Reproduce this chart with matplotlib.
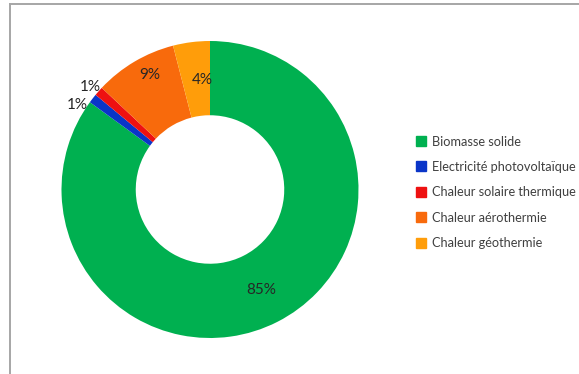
import numpy as np
import matplotlib
matplotlib.use("Agg")
import matplotlib.pyplot as plt
from matplotlib.lines import Line2D

plt.rcParams['font.family'] = ['Lato', 'DejaVu Sans']

categories = ["Biomasse solide", "Electricité photovoltaïque",
              "Chaleur solaire thermique", "Chaleur aérothermie",
              "Chaleur géothermie"]
shares = [85, 1, 1, 9, 4]
pct_labels = ["85%", "1%", "1%", "9%", "4%"]
colors = ["#00b050", "#0a35c8", "#ee1111", "#f86a0c", "#ff9d0a"]

# label placement: radial distance (fraction of outer radius) and angular nudge (deg)
label_radius = [0.76, 1.06, 1.06, 0.87, 0.74]
label_nudge = [0, 5.2, 0.7, -3.0, -3.0]

W, H = 579, 374
fig = plt.figure(figsize=(W / 100, H / 100), dpi=100)

# frame lines (top and left)
fig.add_artist(Line2D([9.5 / W, 1.0], [1 - 3.5 / H, 1 - 3.5 / H],
                      color="#a6a6a6", lw=1.4, transform=fig.transFigure))
fig.add_artist(Line2D([9.5 / W, 9.5 / W], [0, 1 - 3.5 / H],
                      color="#a6a6a6", lw=1.4, transform=fig.transFigure))

cx, cy, R = 210, 189.5, 148.5
ax = fig.add_axes([(cx - R) / W, 1 - (cy + R) / H, 2 * R / W, 2 * R / H])

wedges, _ = ax.pie(shares, colors=colors, startangle=90, counterclock=False,
                   radius=1.0, wedgeprops=dict(width=0.5, linewidth=0))
ax.set_xlim(-1, 1)
ax.set_ylim(-1, 1)
ax.set_aspect("equal")
ax.axis("off")

for w, lab, r, nudge in zip(wedges, pct_labels, label_radius, label_nudge):
    ang = np.deg2rad((w.theta1 + w.theta2) / 2 + nudge)
    ax.text(r * np.cos(ang), r * np.sin(ang), lab, ha="center", va="center",
            fontsize=11, color="#262626", clip_on=False)

handles = [Line2D([], [], marker="s", linestyle="none", markersize=6.5,
                  markerfacecolor=c, markeredgecolor=c) for c in colors]
fig.legend(handles, categories, loc="upper left",
           bbox_to_anchor=(417 / W, 1 - 135.5 / H), frameon=False,
           fontsize=9.2, labelcolor="#404040", borderpad=0, borderaxespad=0,
           handlelength=0.6, handletextpad=0.55, labelspacing=1.05)

fig.savefig("out.png", dpi=100)
